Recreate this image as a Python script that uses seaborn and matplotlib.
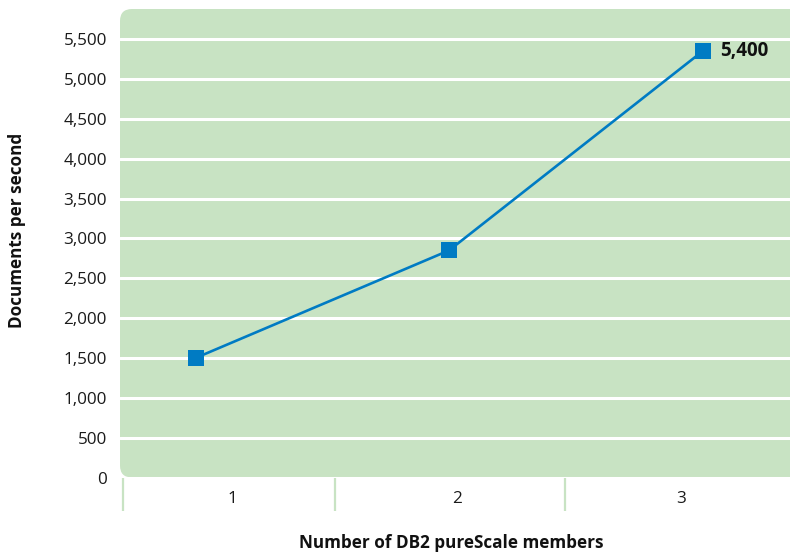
import matplotlib
matplotlib.use("Agg")
import matplotlib.pyplot as plt
from matplotlib.patches import FancyBboxPatch
import seaborn as sns
import pandas as pd
import numpy as np

# ---- data ----
members = [1, 2, 3]
docs_per_sec = [1500, 2850, 5350]
tick_labels = ["1", "2", "3"]
point_labels = ["", "", "5,400"]
y_ticks = list(range(0, 5501, 500))

GREEN = "#C8E3C3"
BLUE = "#007BC3"
FONT = "Open Sans"

sns.set_theme(style="white")
plt.rcParams["font.family"] = [FONT, "DejaVu Sans"]

W, H = 790, 552
fig = plt.figure(figsize=(W / 100, H / 100), dpi=100)

left_px, right_px, top_px, bot_px = 120, 790, 9, 477.5
ax = fig.add_axes([left_px / W, 1 - bot_px / H, (right_px - left_px) / W, (bot_px - top_px) / H])
ax.patch.set_visible(False)

# rounded green background
bg = FancyBboxPatch((left_px, H - bot_px), right_px - left_px + 14, bot_px - top_px,
                    boxstyle="round,pad=0,rounding_size=12", transform=None,
                    facecolor=GREEN, edgecolor="none", zorder=-5)
fig.patches.append(bg)

df = pd.DataFrame({"members": members, "docs": docs_per_sec})
sns.lineplot(data=df, x="members", y="docs", ax=ax, color=BLUE, linewidth=1.9,
             marker="s", markersize=12, markeredgewidth=0, markerfacecolor=BLUE,
             zorder=5)

x0, x1 = 0.702, 3.345
ax.set_xlim(x0, x1)
ax.set_ylim(0, 5880)

for xv, yv, lab in zip(members, docs_per_sec, point_labels):
    if lab:
        ax.annotate(lab, (xv, yv), xytext=(12.5, 0), textcoords="offset points",
                    ha="left", va="center", fontsize=13.5, fontweight="bold", color="#111111")

# y axis
ax.set_yticks(y_ticks)
ax.set_yticklabels([f"{v:,}" for v in y_ticks])
ax.tick_params(axis="y", length=0, pad=9.5, labelsize=12.3, labelcolor="#1a1a1a")
ax.grid(axis="y", color="white", linewidth=2.2)
ax.grid(axis="x", visible=False)
ax.set_axisbelow(True)

# x axis: separators as major ticks, labels as minor ticks
sep_frac = [(122.5 - left_px) / (right_px - left_px), (335 - left_px) / (right_px - left_px),
            (565 - left_px) / (right_px - left_px)]
lab_frac = [(232 - left_px) / (right_px - left_px), (457 - left_px) / (right_px - left_px),
            (681 - left_px) / (right_px - left_px)]
ax.set_xticks([x0 + f * (x1 - x0) for f in sep_frac])
ax.set_xticklabels([])
ax.set_xticks([x0 + f * (x1 - x0) for f in lab_frac], minor=True)
ax.set_xticklabels(tick_labels, minor=True)
ax.tick_params(axis="x", which="major", length=24, width=1.6, color=GREEN, direction="out", bottom=True)
ax.tick_params(axis="x", which="minor", length=0, pad=9.5, labelsize=12.3, labelcolor="#1a1a1a")

for s in ax.spines.values():
    s.set_visible(False)

ax.set_xlabel("")
ax.set_ylabel("")
fig.text(451 / W, 1 - 543 / H, "Number of DB2 pureScale members", ha="center", va="center",
         fontsize=12.3, fontweight="bold", color="#111111")
fig.text(17 / W, 1 - 230 / H, "Documents per second", ha="center", va="center",
         rotation=90, fontsize=12.3, fontweight="bold", color="#111111")

fig.savefig("out.png", dpi=100)
